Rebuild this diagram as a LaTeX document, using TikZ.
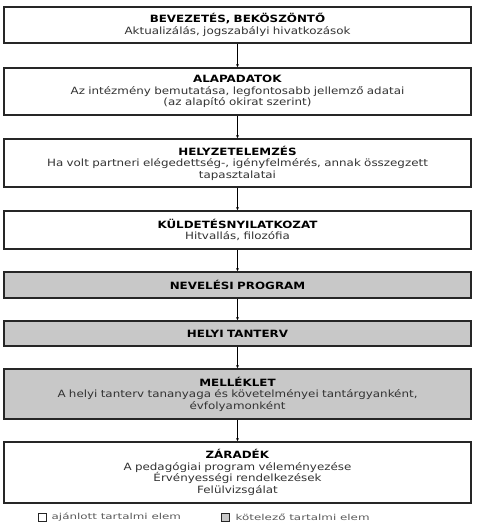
\documentclass[tikz,border=0pt]{standalone}
\usepackage{fontspec}
\setmainfont{DejaVu Sans}[FakeStretch=1.19]
\newfontfamily\jelfont{DejaVu Sans}[FakeStretch=1.45]
\usetikzlibrary{arrows.meta}
\definecolor{boxgray}{RGB}{200,200,200}
\definecolor{subtext}{RGB}{50,50,50}
\tikzset{
    elem/.style={draw=black!85,line width=1.2pt,minimum width=467pt,text width=455pt,align=center,inner sep=0pt,font=\fontsize{10}{11.5}\selectfont},
    kotelezo/.style={elem,fill=boxgray},
    conn/.style={line width=0.6pt,-{Latex[length=3pt,width=3pt]}},
    jel/.style={draw=black!85,line width=1pt,minimum size=8pt,inner sep=0pt},
    jeltxt/.style={anchor=west,inner sep=0pt,font=\jelfont\fontsize{8.2}{9}\selectfont,text=black!65}
}
\newcommand{\cim}[1]{\textbf{#1}}
\newcommand{\alcim}[1]{\textcolor{subtext}{#1}}
\begin{document}
\begin{tikzpicture}[x=1pt,y=-1pt]
    \useasboundingbox (0,0) rectangle (477,529);
    \node[elem,minimum height=36pt] (bev) at (237.5,25) {\cim{BEVEZETÉS, BEKÖSZÖNTŐ}\\\alcim{Aktualizálás, jogszabályi hivatkozások}};
    \node[elem,minimum height=47pt] (alap) at (237.5,91.5) {\cim{ALAPADATOK}\\\alcim{Az intézmény bemutatása, legfontosabb jellemző adatai}\\\alcim{(az alapító okirat szerint)}};
    \node[elem,minimum height=48pt] (helyz) at (237.5,163) {\cim{HELYZETELEMZÉS}\\\alcim{Ha volt partneri elégedettség-, igényfelmérés, annak összegzett}\\\alcim{tapasztalatai}};
    \node[elem,minimum height=38pt] (kuld) at (237.5,230) {\cim{KÜLDETÉSNYILATKOZAT}\\\alcim{Hitvallás, filozófia}};
    \node[kotelezo,minimum height=26pt] (nev) at (237.5,285) {\cim{NEVELÉSI PROGRAM}};
    \node[kotelezo,minimum height=25pt] (tant) at (237.5,333.5) {\cim{HELYI TANTERV}};
    \node[kotelezo,minimum height=50pt] (mell) at (237.5,394) {\cim{MELLÉKLET}\\\alcim{A helyi tanterv tananyaga és követelményei tantárgyanként,}\\\alcim{évfolyamonként}};
    \node[elem,minimum height=61pt] (zar) at (237.5,472.5) {\cim{ZÁRADÉK}\\\alcim{A pedagógiai program véleményezése}\\\alcim{Érvényességi rendelkezések}\\\alcim{Felülvizsgálat}};
    % nyilak
    \draw[conn] (bev) -- (alap);
    \draw[conn] (alap) -- (helyz);
    \draw[conn] (helyz) -- (kuld);
    \draw[conn] (kuld) -- (nev);
    \draw[conn] (nev) -- (tant);
    \draw[conn] (tant) -- (mell);
    \draw[conn] (mell) -- (zar);
    % jelmagyarazat
    \node[jel] (jel1) at (42,517) {};
    \node[jel,fill=boxgray] (jel2) at (225,517) {};
    \node[jeltxt] (jel1txt) at ([xshift=5pt]jel1.east) {ajánlott tartalmi elem};
    \node[jeltxt] (jel2txt) at ([xshift=6pt]jel2.east) {kötelező tartalmi elem};
\end{tikzpicture}
\end{document}
